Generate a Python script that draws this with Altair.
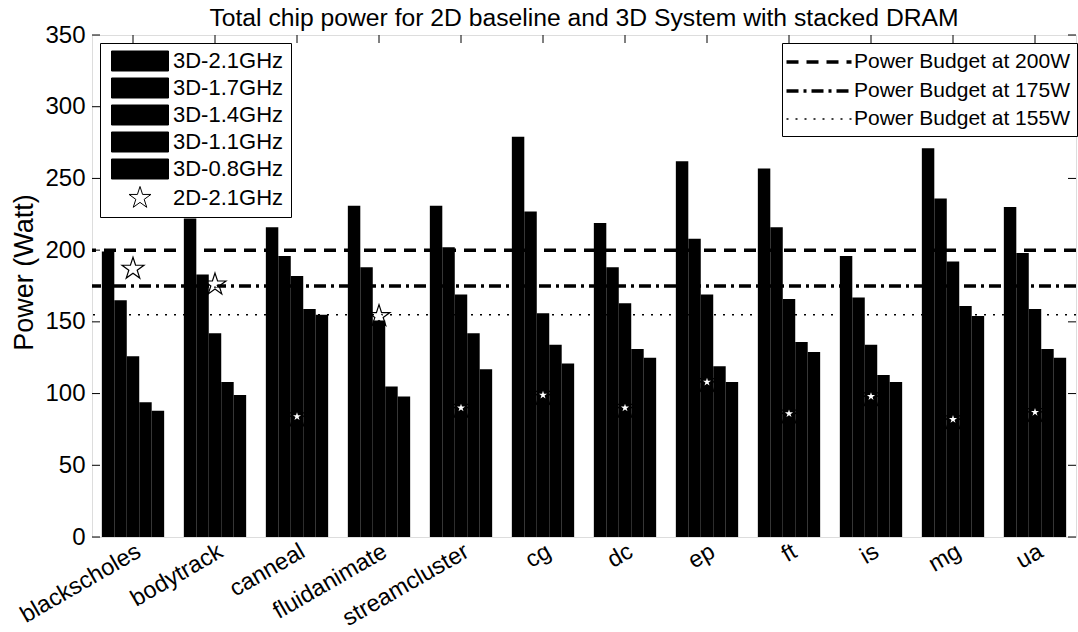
import altair as alt
import pandas as pd

benches = ["blackscholes", "bodytrack", "canneal", "fluidanimate", "streamcluster",
           "cg", "dc", "ep", "ft", "is", "mg", "ua"]
series_3d = ["3D-2.1GHz", "3D-1.7GHz", "3D-1.4GHz", "3D-1.1GHz", "3D-0.8GHz"]
series_2d = "2D-2.1GHz"
p_21 = [199, 222, 216, 231, 231, 279, 219, 262, 257, 196, 271, 230]
p_17 = [165, 183, 196, 188, 202, 227, 188, 208, 216, 167, 236, 198]
p_14 = [126, 142, 182, 151, 169, 156, 163, 169, 166, 134, 192, 159]
p_11 = [94, 108, 159, 105, 142, 134, 131, 119, 136, 113, 161, 131]
p_08 = [88, 99, 155, 98, 117, 121, 125, 108, 129, 108, 154, 125]
p_2d = [187, 176, 84, 154, 90, 99, 90, 108, 86, 98, 82, 87]
budget_names = ["Power Budget at 200W", "Power Budget at 175W", "Power Budget at 155W"]
budget_values = [200, 175, 155]
y_ticks = [0, 50, 100, 150, 200, 250, 300, 350]

FONT = "Liberation Sans"
W, H = 984, 502

rows = []
for s, vals in zip(series_3d, [p_21, p_17, p_14, p_11, p_08]):
    for b, v in zip(benches, vals):
        rows.append({"bench": b, "series": s, "power": v})
bars_df = pd.DataFrame(rows)
stars_df = pd.DataFrame({"bench": benches, "series": series_2d, "power": p_2d})
budget_df = pd.DataFrame({"name": budget_names, "value": budget_values})
ticks_df = pd.DataFrame({"v": y_ticks})
cats_df = pd.DataFrame({"bench": benches})

all_series = series_3d + [series_2d]
# symbol paths (unit box -1..1 is scaled to sqrt(size))
RECT = "M-2.85,-1H2.85V1H-2.85Z"
STAR = ("M0,-1.15L0.258,-0.355L1.094,-0.355L0.418,0.136L0.676,0.93"
        "L0,0.439L-0.676,0.93L-0.418,0.136L-1.094,-0.355L-0.258,-0.355Z")
LINE = "M-3.25,0H3.25"

xscale = alt.Scale(domain=benches, paddingInner=0.24, paddingOuter=0.12)
yscale = alt.Scale(domain=[0, 350], nice=False)

x_enc = alt.X("bench:N", scale=xscale, sort=benches, title=None,
              axis=alt.Axis(labelAngle=-30, labelAlign="right", labelBaseline="top",
                            labelFontSize=23.5, labelFont=FONT, labelColor="black",
                            labelPadding=2, tickSize=0, domain=False, labelLimit=0))
y_enc = alt.Y("power:Q", scale=yscale, title="Power (Watt)",
              axis=alt.Axis(values=y_ticks, tickSize=0, domain=False, grid=False,
                            labelFontSize=24, labelFont=FONT, labelColor="black",
                            labelPadding=7, titleFontSize=27, titleFont=FONT,
                            titleFontWeight="normal", titleColor="black", titlePadding=6,
                            titleY=237))

legend1 = alt.Legend(title=None, orient="none", legendX=8, legendY=8,
                     symbolSize=400, symbolOffset=22, labelOffset=22,
                     symbolStrokeColor="black", symbolStrokeWidth=1,
                     labelFontSize=22, labelFont=FONT, labelColor="black", labelLimit=0,
                     padding=7, rowPadding=3, strokeColor="black", fillColor="white")

bars = alt.Chart(bars_df).mark_bar().encode(
    x=x_enc,
    xOffset=alt.XOffset("series:N", sort=series_3d,
                        scale=alt.Scale(domain=series_3d, paddingInner=0, paddingOuter=0)),
    y=y_enc,
    color=alt.Color("series:N", scale=alt.Scale(domain=all_series,
                                                range=["black"] * 5 + ["white"]),
                    legend=legend1),
)

left_ticks = alt.Chart(ticks_df).mark_rule(color="black", strokeWidth=1).encode(
    y=alt.Y("v:Q", scale=yscale), x=alt.value(0), x2=alt.value(8))
right_ticks = alt.Chart(ticks_df).mark_rule(color="black", strokeWidth=1).encode(
    y=alt.Y("v:Q", scale=yscale), x=alt.value(W - 8), x2=alt.value(W))
top_ticks = alt.Chart(cats_df).mark_rule(color="black", strokeWidth=1).encode(
    x=alt.X("bench:N", scale=xscale, sort=benches), y=alt.value(0), y2=alt.value(8))

legend2 = alt.Legend(title=None, orient="none", legendX=690, legendY=8,
                     symbolType=LINE, symbolSize=400, symbolOffset=18,
                     labelOffset=23, symbolStrokeColor="black",
                     labelFontSize=21, labelFont=FONT, labelColor="black", labelLimit=0,
                     padding=7, rowPadding=7, strokeColor="black", fillColor="white")

rules = alt.Chart(budget_df).mark_rule(color="black").encode(
    y=alt.Y("value:Q", scale=yscale),
    strokeDash=alt.StrokeDash("name:N", sort=budget_names,
                              scale=alt.Scale(domain=budget_names,
                                              range=[[12, 8], [12, 5, 3, 5], [2, 7]]),
                              legend=legend2),
    strokeWidth=alt.StrokeWidth("name:N", sort=budget_names,
                                scale=alt.Scale(type="ordinal", domain=budget_names,
                                                range=[3.5, 3.5, 1.5]),
                                legend=legend2),
)

tiny_stars = alt.Chart(stars_df).mark_point(shape=STAR, filled=True, fill="white",
                                            size=55, strokeWidth=0, opacity=1).encode(
    x=alt.X("bench:N", scale=xscale, sort=benches),
    y=alt.Y("power:Q", scale=yscale),
)

stars = alt.Chart(stars_df).mark_point(filled=False, stroke="black", strokeWidth=1.2,
                                       size=400, opacity=1).encode(
    x=alt.X("bench:N", scale=xscale, sort=benches),
    y=alt.Y("power:Q", scale=yscale),
    shape=alt.Shape("series:N", scale=alt.Scale(domain=all_series,
                                                range=[RECT] * 5 + [STAR]),
                    legend=legend1),
)

chart = alt.layer(left_ticks, right_ticks, top_ticks, bars, rules, tiny_stars, stars).properties(
    width=W, height=H,
    title=alt.Title("Total chip power for 2D baseline and 3D System with stacked DRAM",
                    fontSize=24.7, fontWeight="normal", font=FONT, color="black",
                    offset=4, dy=12, anchor="middle", frame="group"),
    autosize=alt.AutoSizeParams(type="none"),
    padding={"left": 92, "top": 35, "right": 2, "bottom": 95},
).configure_view(stroke="black", strokeWidth=1).configure(background="white")

chart.save("out.html", embed_options={"renderer": "svg", "actions": False})
